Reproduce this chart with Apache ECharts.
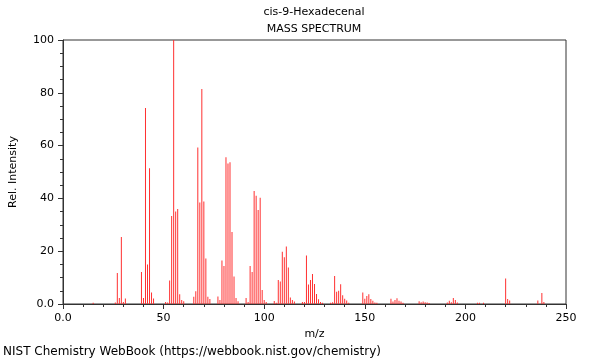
<!DOCTYPE html>
<html><head><meta charset="utf-8">
<script src="https://cdn.jsdelivr.net/npm/echarts@6/dist/echarts.min.js"></script>
<style>html,body{margin:0;padding:0;background:#fff}#c{width:600px;height:360px}</style>
</head><body><div id="c"></div>
<script>
const titleText = 'cis-9-Hexadecenal';
const subTitle = 'MASS SPECTRUM';
const xName = 'm/z';
const yName = 'Rel. Intensity';
const footer = 'NIST Chemistry WebBook (https://webbook.nist.gov/chemistry)';
const mz = [15,26,27,28,29,30,31,39,40,41,42,43,44,45,51,52,53,54,55,56,57,58,59,60,65,66,67,68,69,70,71,72,73,77,78,79,80,81,82,83,84,85,86,87,91,92,93,94,95,96,97,98,99,100,101,105,106,107,108,109,110,111,112,113,114,115,119,120,121,122,123,124,125,126,127,128,129,133,134,135,136,137,138,139,140,141,142,149,150,151,152,153,154,155,156,163,164,165,166,167,168,169,177,178,179,180,181,182,191,192,193,194,195,196,206,207,209,220,221,222,236,238,239];
const intensity = [0.5,0.6,11.7,2.3,25.4,0.8,2.1,12.1,2.3,74.2,15.0,51.4,4.4,2.1,0.8,0.6,8.9,33.3,100,35.0,36.0,3.7,1.5,1.0,2.7,4.8,59.3,38.4,81.4,38.8,17.2,2.7,1.9,2.8,1.5,16.5,14.4,55.6,53.2,53.7,27.3,10.4,2.3,1.0,2.3,0.8,14.4,12.1,42.8,41.0,35.6,40.2,5.3,1.5,0.8,1.1,0.5,9.1,8.5,19.8,17.7,21.8,13.8,2.5,1.5,0.9,0.8,0.8,18.4,7.4,9.1,11.4,7.6,3.8,1.8,0.8,0.5,0.5,0.7,10.6,4.6,5.0,7.5,3.3,2.0,1.3,0.5,4.4,2.0,3.0,3.7,1.9,1.2,0.6,0.5,2.0,0.9,1.5,2.2,1.2,0.9,0.5,1.0,0.7,0.9,0.7,0.6,0.4,0.6,1.2,0.7,2.3,1.5,0.6,0.5,0.5,0.5,9.7,1.9,1.3,1.3,4.2,0.8];
const xTicks = [0, 50, 100, 150, 200, 250];
const yTicks = [0, 20, 40, 60, 80, 100];

const chart = echarts.init(document.getElementById('c'), null, {renderer: 'canvas'});
const font = 'DejaVu Sans';
const axisCol = '#333';
chart.setOption({
  animation: false,
  backgroundColor: '#fff',
  title: [
    {text: titleText, left: 314, top: 7, padding: 0, textAlign: 'center', textStyle: {fontFamily: font, fontSize: 11, fontWeight: 'normal', color: '#000'}},
    {text: subTitle, left: 314, top: 24, padding: 0, textAlign: 'center', textStyle: {fontFamily: font, fontSize: 11, fontWeight: 'normal', color: '#000'}},
    {text: footer, left: 3, top: 346, padding: 0, textStyle: {fontFamily: font, fontSize: 12, fontWeight: 'normal', color: '#000'}}
  ],
  grid: {left: 62, right: 34, top: 40, bottom: 56, show: true, borderColor: axisCol, borderWidth: 1, backgroundColor: 'transparent'},
  xAxis: {
    type: 'value', min: xTicks[0], max: xTicks[xTicks.length-1], interval: 50,
    name: xName, nameLocation: 'middle', nameGap: 25,
    nameTextStyle: {fontFamily: font, fontSize: 11, color: '#000'},
    axisLine: {show: true, lineStyle: {color: axisCol}},
    axisTick: {show: true, length: 5, lineStyle: {color: axisCol}},
    minorTick: {show: true, splitNumber: 5, length: 3, lineStyle: {color: axisCol}},
    splitLine: {show: false},
    axisLabel: {fontFamily: font, fontSize: 11, color: '#000', margin: 9,
      formatter: v => v === 0 ? '0.0' : String(v)}
  },
  yAxis: {
    type: 'value', min: yTicks[0], max: yTicks[yTicks.length-1], interval: 20,
    name: yName, nameLocation: 'middle', nameGap: 44, nameRotate: 90,
    nameTextStyle: {fontFamily: font, fontSize: 11, color: '#000'},
    axisLine: {show: true, lineStyle: {color: axisCol}},
    axisTick: {show: true, length: 5, lineStyle: {color: axisCol}},
    minorTick: {show: true, splitNumber: 4, length: 3, lineStyle: {color: axisCol}},
    splitLine: {show: false},
    axisLabel: {fontFamily: font, fontSize: 11, color: '#000', margin: 9,
      formatter: v => v === 0 ? '0.0' : String(v)}
  },
  series: [{
    type: 'bar',
    barWidth: 1,
    itemStyle: {color: '#ff3030'},
    data: mz.map((m, i) => [m, intensity[i]])
  }]
});
</script>
</body></html>
